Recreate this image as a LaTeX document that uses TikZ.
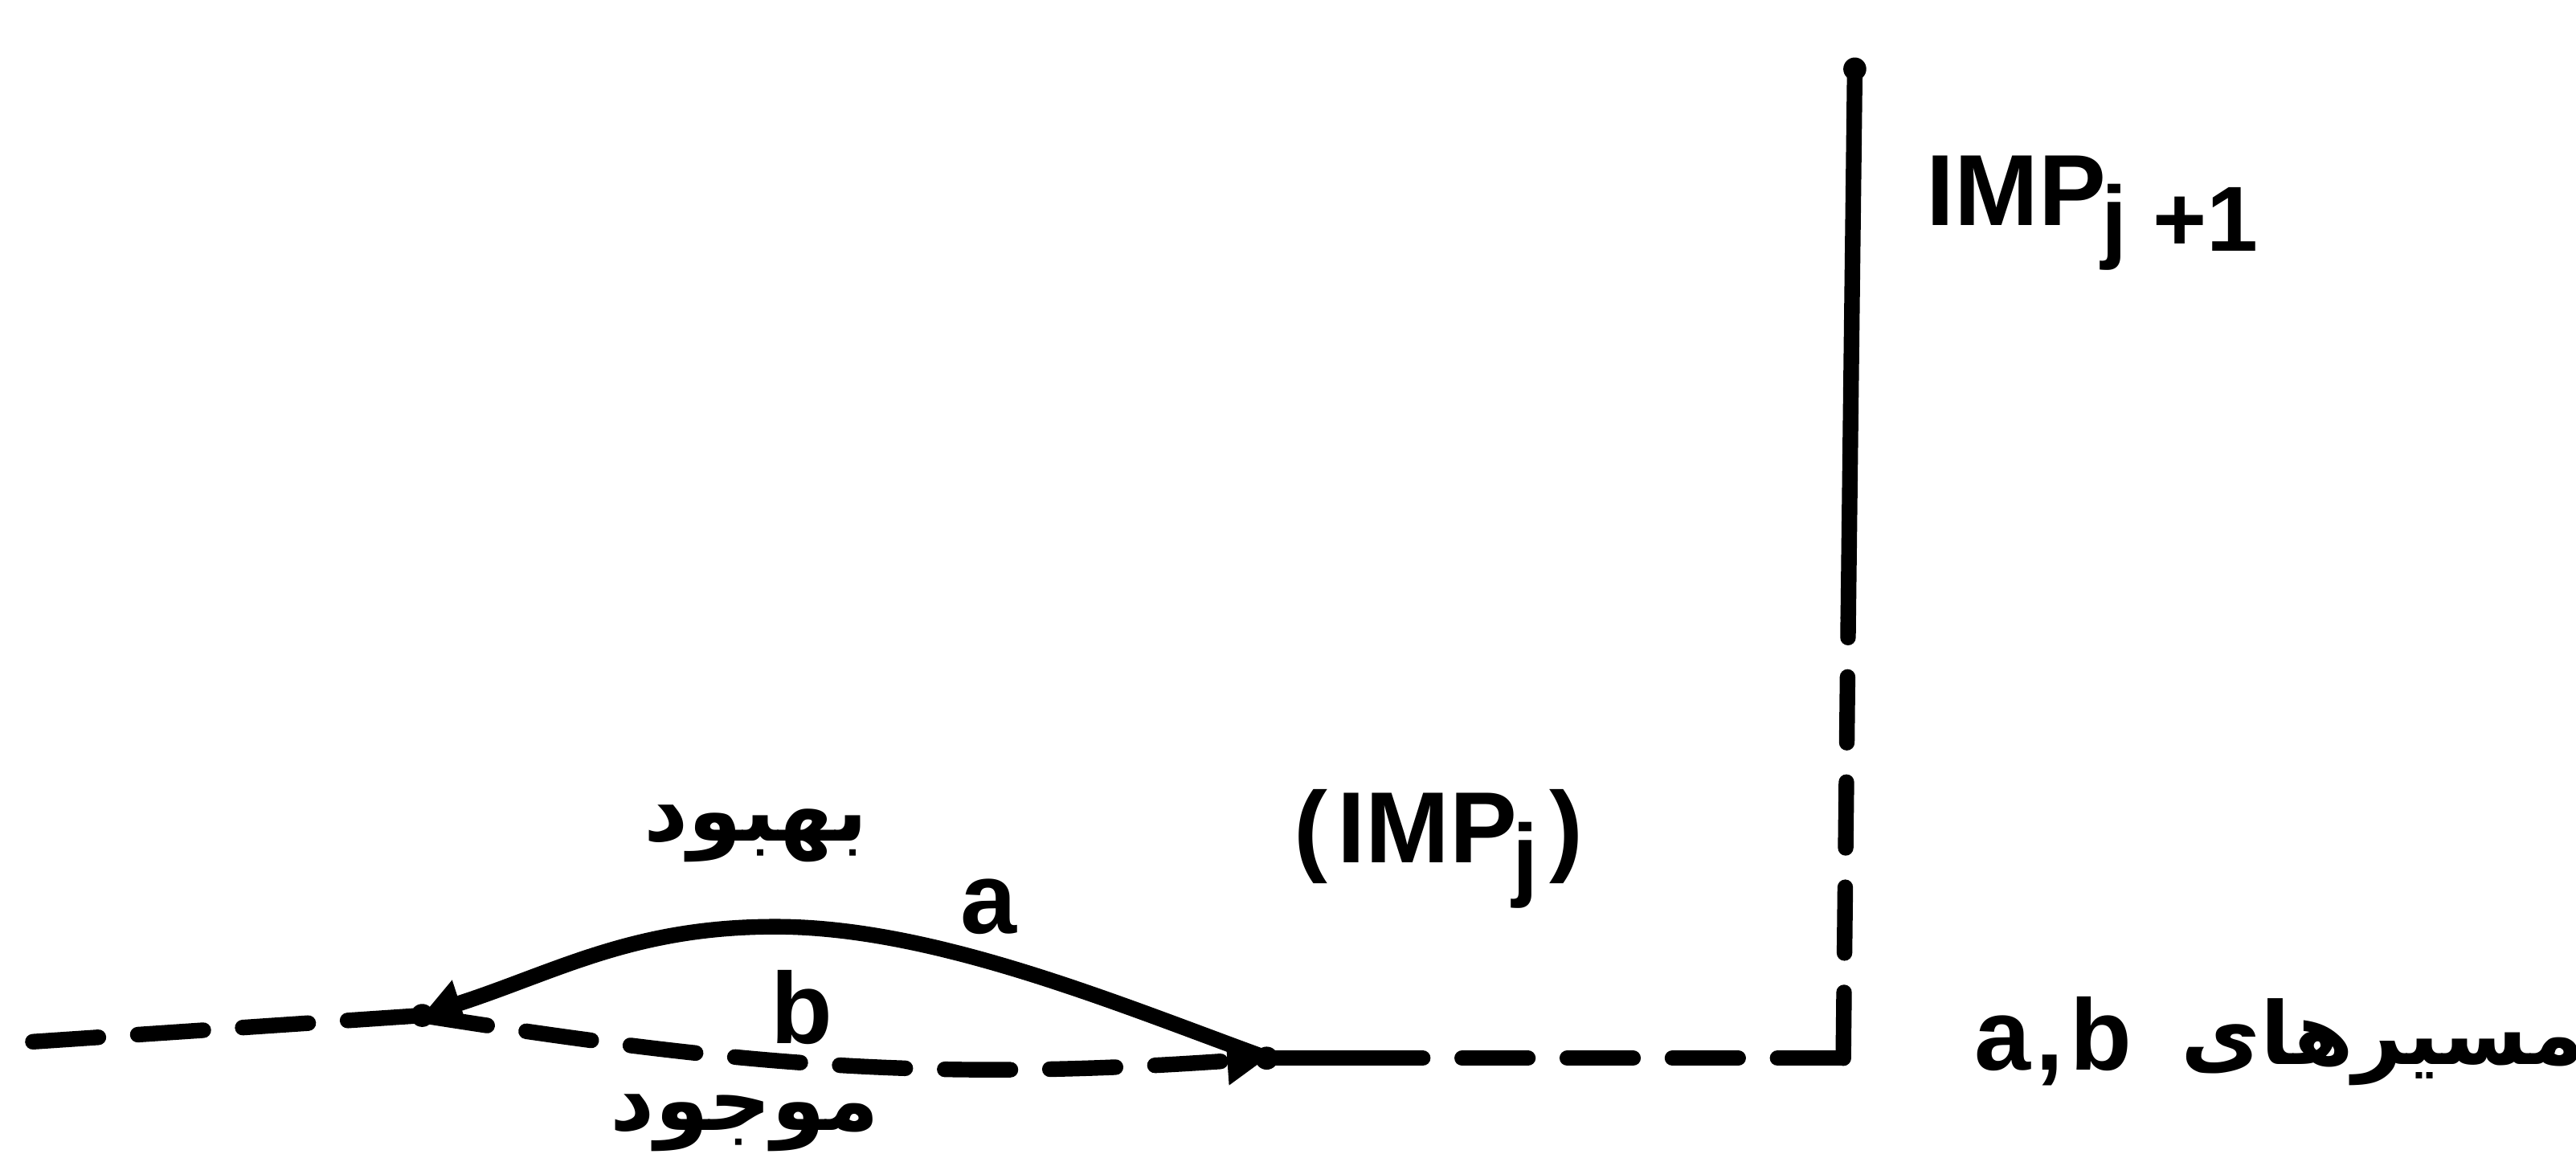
\documentclass[tikz,border=0pt]{standalone}
\usepackage{fontspec}
\setmainfont{Liberation Sans}
\newfontfamily\farsi[Script=Arabic]{DejaVu Sans}
\TeXXeTstate=1
\usetikzlibrary{arrows.meta}
\newcommand{\impsub}[1]{IMP\kern-0.03cm\raisebox{-0.16cm}{\fontsize{16}{18}\selectfont #1}}

\begin{document}
\begin{tikzpicture}[line width=2.7pt]
\tikzset{pathline/.style={line cap=round},
         dashline/.style={line cap=round,dash pattern=on 0.4cm off 0.24cm},
         tipa/.style={-{Triangle[length=0.24cm,width=0.28cm]}},
         lbl/.style={inner sep=0pt,font=\bfseries\fontsize{17.5}{20}\selectfont},
         farsilbl/.style={inner sep=0pt,font=\farsi\bfseries\fontsize{15}{18}\selectfont}}
\useasboundingbox (0,0) rectangle (15.68,7.02);
% Points
\coordinate (S) at (0.20,0.68);
\coordinate (L) at (2.57,0.84);
\coordinate (R) at (7.71,0.58);
\coordinate (P) at (4.72,1.38);
\coordinate (H) at (8.61,0.58);
\coordinate (C) at (11.22,0.58);
\coordinate (V) at (11.25,3.26);
\coordinate (T) at (11.29,6.60);
% existing path b
\draw[dashline](S)--(L);
\draw[dashline,tipa](L) to[out=-9,in=184] (R);
% improved path a
\draw[pathline,tipa](R) to[out=160,in=0,looseness=0.8] (P) to[out=180,in=18] (L);
% on to IMP_{j+1}
\draw[pathline](R)--(H);
\draw[dashline](C)--(H);
\draw[dashline](C)--(V);
\draw[pathline](V)--(T);
% dots
\foreach \p in {L,R,T} \fill (\p) circle (0.07);
% labels
\node[lbl,anchor=base] (alab) at (6.02,1.34) {a};
\node[lbl,anchor=base] (blab) at (4.88,0.67) {b};
\node[farsilbl,anchor=base] (better) at (4.60,1.90) {\beginR بهبود\endR};
\node[farsilbl,anchor=base] (exist) at (4.535,0.14) {\beginR موجود\endR};
\node[lbl,anchor=base west] (impj) at (7.83,1.77) {(\hspace{0.06cm}\impsub{j}\hspace{0.07cm})};
\node[lbl,anchor=base west] (impnext) at (11.68,5.65) {\impsub{j +1}};
\node[lbl,anchor=base west] (ablab) at (11.97,0.51) {a\hspace{0.03cm},\hspace{0.04cm}b};
\node[farsilbl,anchor=base west] (paths) at (13.23,0.54) {\beginR مسیرهای\endR};
\end{tikzpicture}
\end{document}
